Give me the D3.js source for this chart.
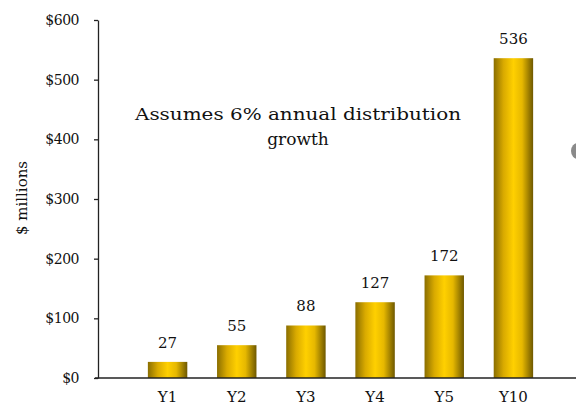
<!DOCTYPE html>
<html>
<head>
<meta charset="utf-8">
<script src="https://cdn.jsdelivr.net/npm/d3@7"></script>
<style>
  body { margin: 0; background: #fff; }
  svg { display: block; font-family: "DejaVu Serif", "Liberation Serif", serif; }
</style>
</head>
<body>
<svg width="576" height="414"></svg>
<script>
var categories = ["Y1", "Y2", "Y3", "Y4", "Y5", "Y10"];
var values = [27, 55, 88, 127, 172, 536];
var yTicks = [0, 100, 200, 300, 400, 500, 600];

function main() {
  var svg = d3.select("svg");

  var x = d3.scaleBand()
    .domain(categories)
    .range([133, 548])
    .paddingInner(0.43)
    .paddingOuter(0.215);

  var y = d3.scaleLinear()
    .domain([0, 600])
    .range([378, 20]);

  // cylinder-like gradient for the bars
  var grad = svg.append("defs").append("linearGradient")
    .attr("id", "barGrad")
    .attr("x1", "0%").attr("x2", "100%")
    .attr("y1", "0%").attr("y2", "0%");
  grad.append("stop").attr("offset", "0%").attr("stop-color", "#8a6e00");
  grad.append("stop").attr("offset", "25%").attr("stop-color", "#d9aa00");
  grad.append("stop").attr("offset", "50%").attr("stop-color", "#ffd000");
  grad.append("stop").attr("offset", "72%").attr("stop-color", "#e6b800");
  grad.append("stop").attr("offset", "100%").attr("stop-color", "#6e5800");

  // bars
  svg.selectAll(".bar")
    .data(values)
    .enter()
    .append("rect")
    .attr("class", "bar")
    .attr("x", function(d, i) { return x(categories[i]); })
    .attr("y", function(d) { return y(d); })
    .attr("width", x.bandwidth())
    .attr("height", function(d) { return y(0) - y(d); })
    .attr("fill", "url(#barGrad)");

  // value labels
  svg.selectAll(".val")
    .data(values)
    .enter()
    .append("text")
    .attr("class", "val")
    .attr("x", function(d, i) { return x(categories[i]) + x.bandwidth() / 2; })
    .attr("y", function(d) { return y(d) - 14; })
    .attr("text-anchor", "middle")
    .attr("font-size", 15)
    .attr("fill", "#111")
    .text(function(d) { return d; });

  // y axis
  var yAxis = svg.append("g")
    .attr("transform", "translate(98,0)")
    .call(d3.axisLeft(y).tickValues(yTicks).tickSize(4).tickSizeOuter(0)
      .tickFormat(function(d) { return "$" + d; }));
  yAxis.select(".domain").attr("stroke", "#222").attr("stroke-width", 1.3);
  yAxis.selectAll(".tick line").attr("stroke", "#222").attr("stroke-width", 1.3);
  yAxis.selectAll(".tick text")
    .attr("font-family", "DejaVu Serif, serif")
    .attr("font-size", 14)
    .attr("letter-spacing", -0.5)
    .attr("fill", "#111")
    .attr("x", -19);

  // x axis
  var xAxis = svg.append("g")
    .attr("transform", "translate(0,378)")
    .call(d3.axisBottom(x).tickSize(0).tickSizeOuter(0));
  xAxis.select(".domain").attr("d", "M95,0H576").attr("stroke", "#222").attr("stroke-width", 1.3);
  xAxis.selectAll(".tick text")
    .attr("font-family", "DejaVu Serif, serif")
    .attr("font-size", 15)
    .attr("fill", "#111")
    .attr("y", 13);

  // y axis title
  svg.append("text")
    .attr("transform", "translate(27,198) rotate(-90)")
    .attr("text-anchor", "middle")
    .attr("font-size", 15)
    .attr("fill", "#111")
    .text("$ millions");

  // annotation
  var note = svg.append("text")
    .attr("text-anchor", "middle")
    .attr("font-size", 17)
    .attr("fill", "#111");
  note.append("tspan").attr("x", 298).attr("y", 120)
    .attr("textLength", 326).attr("lengthAdjust", "spacingAndGlyphs")
    .text("Assumes 6% annual distribution");
  note.append("tspan").attr("x", 298).attr("y", 145)
    .text("growth");

  // partially visible marker at the right edge
  svg.append("ellipse")
    .attr("cx", 578).attr("cy", 151)
    .attr("rx", 7).attr("ry", 8)
    .attr("fill", "#8a8a8a");
}

main();
</script>
</body>
</html>
